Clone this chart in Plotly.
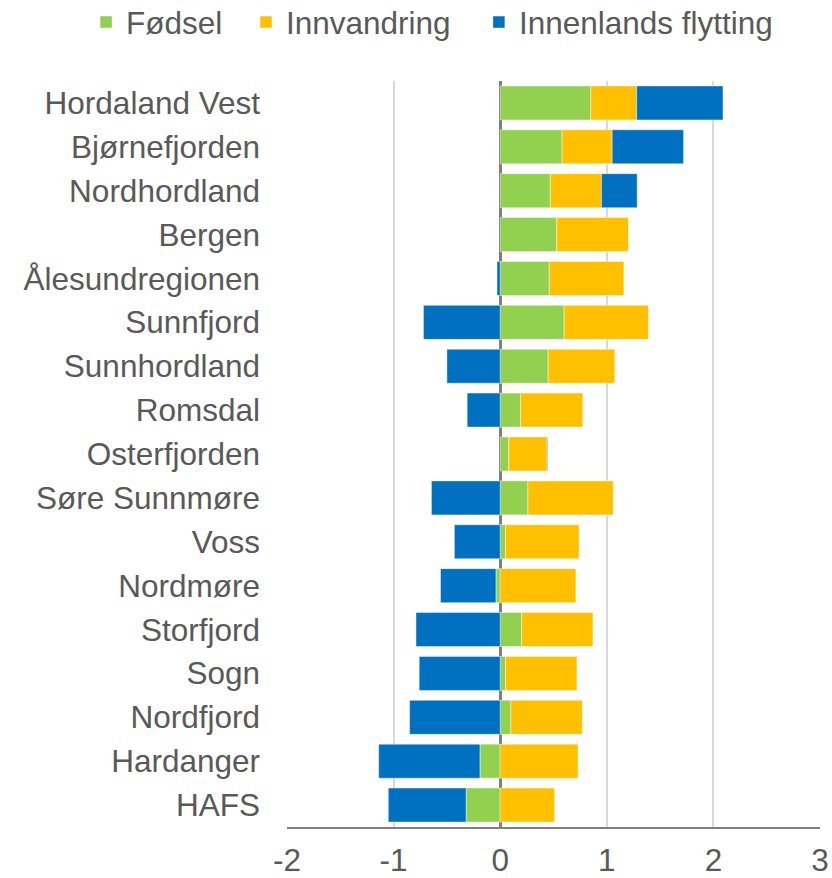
import plotly.graph_objects as go

regions = ["Hordaland Vest", "Bjørnefjorden", "Nordhordland", "Bergen", "Ålesundregionen",
           "Sunnfjord", "Sunnhordland", "Romsdal", "Osterfjorden", "Søre Sunnmøre", "Voss",
           "Nordmøre", "Storfjord", "Sogn", "Nordfjord", "Hardanger", "HAFS"]
fodsel = [0.85, 0.58, 0.47, 0.53, 0.46, 0.60, 0.45, 0.19, 0.08, 0.26, 0.05,
          -0.04, 0.20, 0.05, 0.10, -0.19, -0.32]
innvandring = [0.43, 0.47, 0.48, 0.675, 0.70, 0.79, 0.625, 0.585, 0.36, 0.80, 0.69,
               0.71, 0.67, 0.67, 0.67, 0.73, 0.51]
innenlands = [0.81, 0.67, 0.335, 0.0, -0.03, -0.72, -0.50, -0.31, 0.006, -0.645, -0.43,
              -0.52, -0.79, -0.76, -0.85, -0.95, -0.73]
series_names = ["Fødsel", "Innvandring", "Innenlands flytting"]
colors = ["#92D050", "#FFC000", "#0070C0"]
x_ticks = [-2, -1, 0, 1, 2, 3]

FONT = "Liberation Sans, Arial, sans-serif"
TXT = "#595959"
FS = 31.5

legend_ids = ["legend", "legend2", "legend3"]
legend_x = [-0.377, -0.077, 0.360]

fig = go.Figure()
for name, vals, col, lid in zip(series_names, [fodsel, innvandring, innenlands], colors, legend_ids):
    fig.add_trace(go.Bar(
        y=regions, x=vals, name=name, orientation="h", legend=lid,
        marker=dict(color=col, line=dict(width=0.8, color="rgba(255,255,255,0.55)")),
    ))

legend_common = dict(orientation="h", xref="paper", yref="paper", xanchor="left",
                     y=1.079, yanchor="middle", font=dict(size=FS, color=TXT),
                     itemwidth=30, bgcolor="rgba(0,0,0,0)")

fig.update_layout(
    barmode="relative",
    bargap=0.225,
    width=832, height=878,
    margin=dict(l=287, r=12, t=81, b=51, autoexpand=False),
    paper_bgcolor="white", plot_bgcolor="white",
    font=dict(family=FONT, size=FS, color=TXT),
    legend=dict(x=legend_x[0], **legend_common),
    legend2=dict(x=legend_x[1], **legend_common),
    legend3=dict(x=legend_x[2], **legend_common),
    showlegend=True,
)
fig.update_xaxes(
    range=[-2, 3], tickvals=x_ticks, ticktext=[str(v) for v in x_ticks],
    showgrid=True, gridcolor="#D9D9D9", gridwidth=1.5,
    zeroline=True, zerolinecolor="#7F7F7F", zerolinewidth=2.5,
    showline=True, linecolor="#7F7F7F", linewidth=2,
    tickfont=dict(size=FS, color=TXT), ticks="", ticklabelstandoff=4,
    automargin=False,
)
fig.update_yaxes(
    categoryorder="array", categoryarray=regions[::-1],
    showgrid=False, zeroline=False, showline=False,
    tickfont=dict(size=FS, color=TXT), ticks="", ticklabelstandoff=26,
    automargin=False,
)
fig.write_html("out.html", config={"displayModeBar": False},
               post_script="document.body.style.margin='0';document.body.style.overflow='hidden';")
